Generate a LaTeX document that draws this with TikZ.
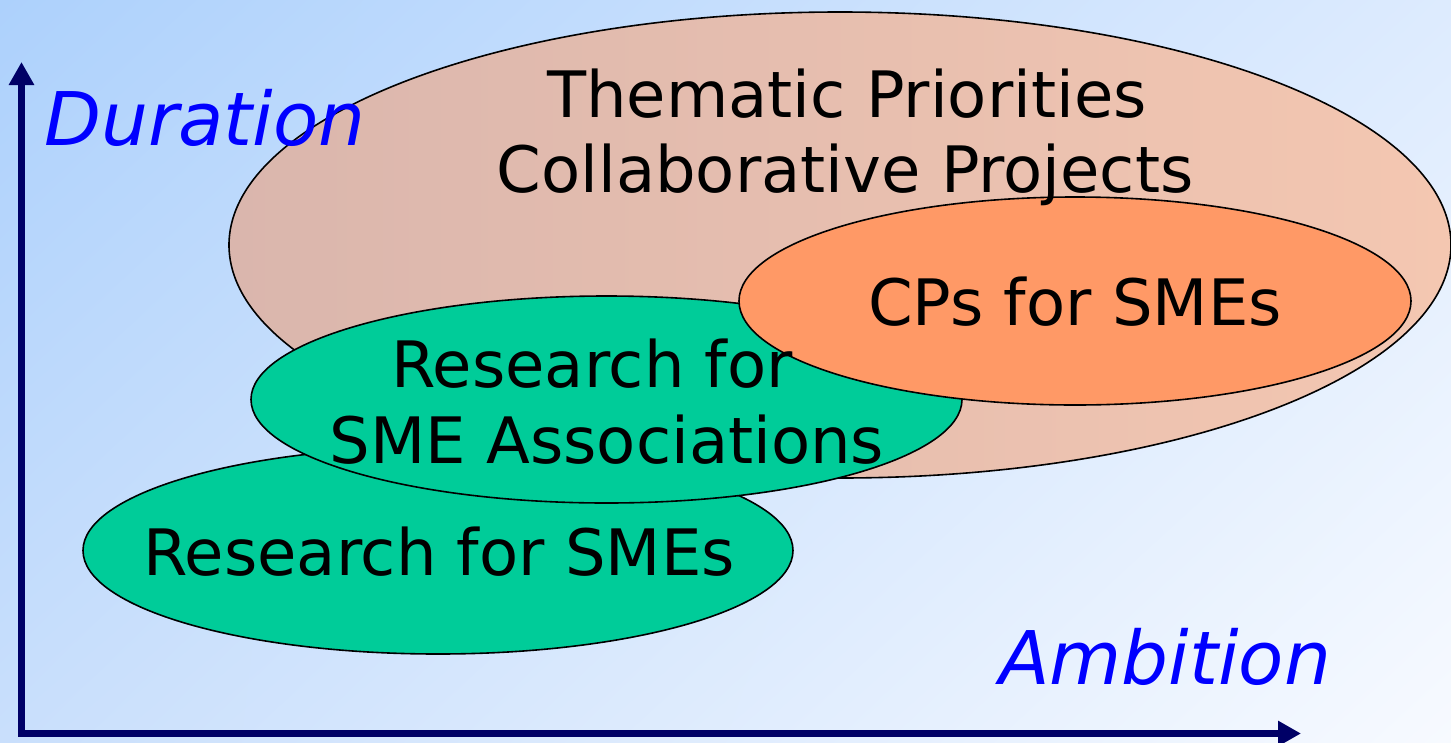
\documentclass[tikz,border=0pt]{standalone}
\usepackage{fontspec}
\setmainfont{DejaVu Sans}
\usetikzlibrary{shapes.geometric,arrows.meta,shadings}
\definecolor{bgTL}{HTML}{ADD1FC}
\definecolor{bgTR}{HTML}{DDEBFE}
\definecolor{bgBL}{HTML}{C9DFFC}
\definecolor{bgBR}{HTML}{F7FAFF}
\definecolor{bigL}{HTML}{DAB6AD}
\definecolor{bigR}{HTML}{F4C7B1}
\definecolor{smegreen}{HTML}{00CC99}
\definecolor{cporange}{HTML}{FF9966}
\definecolor{navy}{HTML}{000066}
\definecolor{axisblue}{HTML}{0000FF}
\begin{document}
\begin{tikzpicture}[x=1pt,y=-1pt,
  oval/.style={ellipse,draw=black,line width=1.6pt,inner sep=0pt},
  lbl/.style={anchor=base,inner sep=0pt,font=\fontsize{64}{76}\selectfont},
  axislbl/.style={anchor=base,inner sep=0pt,text=axisblue,font=\fontsize{74}{88}\selectfont\itshape},
  axisline/.style={draw=navy,line width=7.5pt,-{Triangle[width=24pt,length=23pt]}}]
\useasboundingbox (0,0) rectangle (1451,742);
\shade[upper left=bgTL,upper right=bgTR,lower left=bgBL,lower right=bgBR] (0,0) rectangle (1451,742);
% ellipses
\node[oval,minimum width=1222pt,minimum height=466pt,left color=bigL,right color=bigR] (tp) at (840,245) {};
\node[oval,fill=smegreen,minimum width=710pt,minimum height=207pt] (rsme) at (438,550.5) {};
\node[oval,fill=smegreen,minimum width=711pt,minimum height=207pt] (rassoc) at (606.5,399.5) {};
\node[oval,fill=cporange,minimum width=672pt,minimum height=208pt] (cp) at (1075,301) {};
% texts
\node[lbl] (t1) at (847,117) {Thematic Priorities};
\node[lbl] (t2) at (845,192) {Collaborative Projects};
\node[lbl] (t3) at (1075,325) {CPs for SMEs};
\node[lbl] (t4) at (592,387) {Research for};
\node[lbl] (t5) at (607,463) {SME Associations};
\node[lbl] (t6) at (439,575) {Research for SMEs};
% axes
\coordinate (origin) at (21.5,734);
\coordinate (ytip) at (21.5,62);
\coordinate (xstart) at (18,733.5);
\coordinate (xtip) at (1301,733.5);
\draw[axisline] (origin) -- (ytip);
\draw[axisline] (xstart) -- (xtip);
\node[axislbl] (dur) at (205,145) {Duration};
\node[axislbl] (amb) at (1165,684) {Ambition};
\end{tikzpicture}
\end{document}
